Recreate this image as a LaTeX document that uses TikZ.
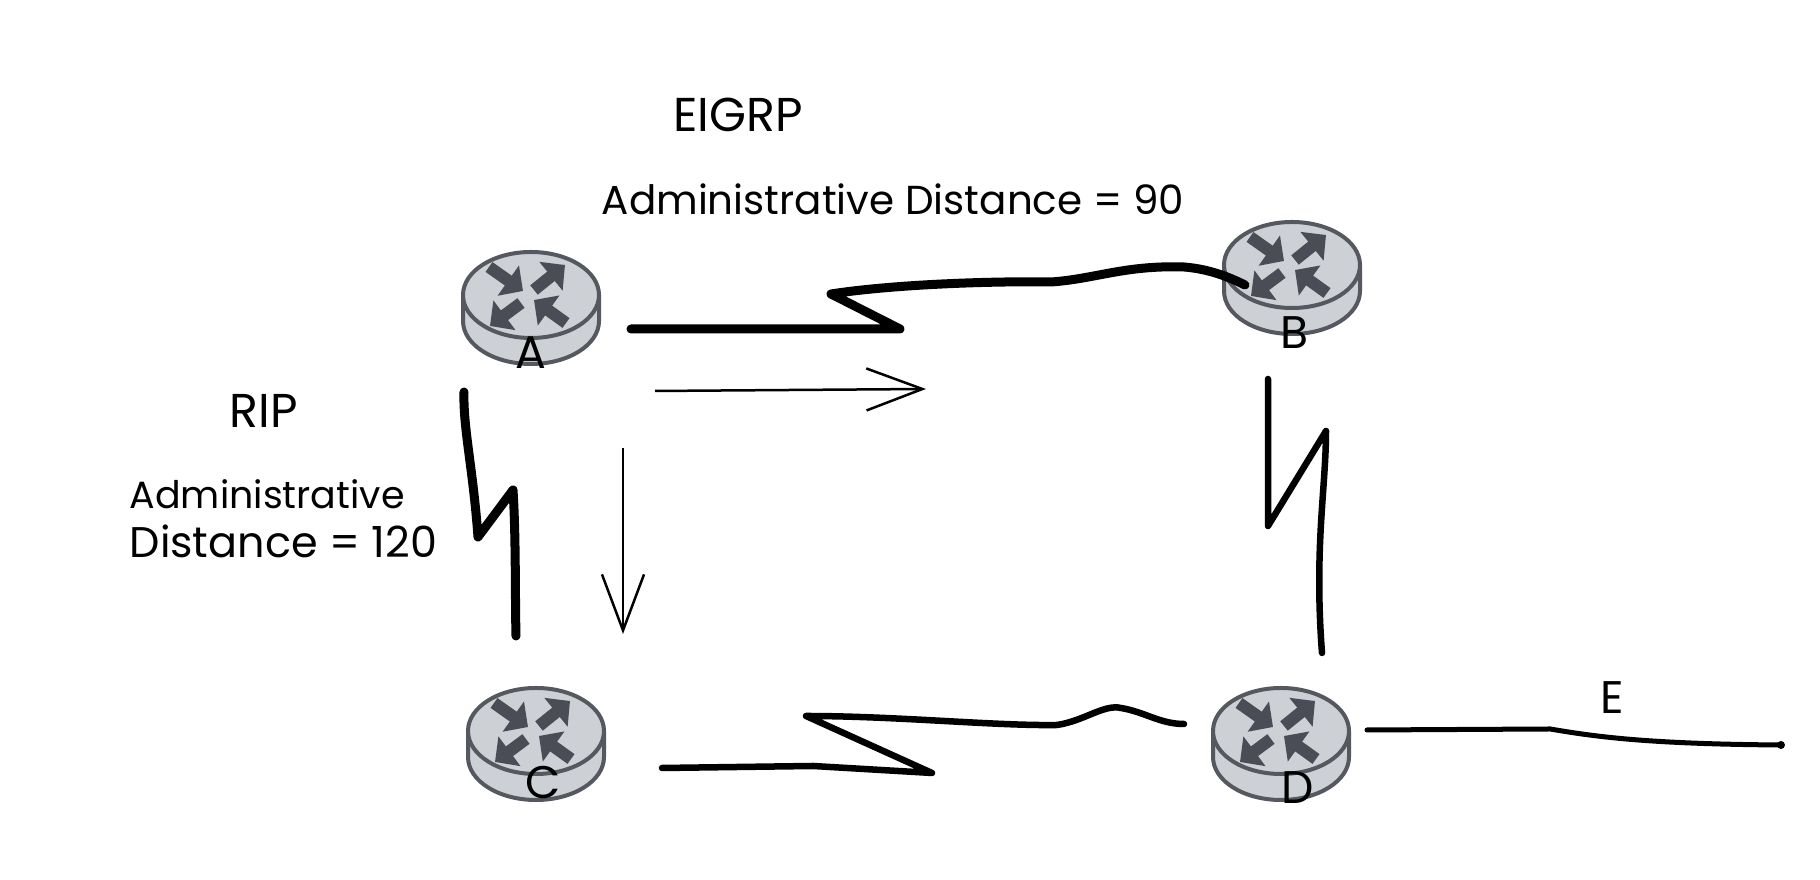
\documentclass[tikz,border=0pt]{standalone}
\usepackage{fontspec}
\setmainfont{Poppins}
\usetikzlibrary{arrows.meta,positioning,calc}

\definecolor{routerfill}{HTML}{CDD1D6}
\definecolor{routeredge}{HTML}{55585F}
\definecolor{routerarrow}{HTML}{4A4D55}

\tikzset{
  bolt/.style={line width=0.065cm, line cap=round, line join=round},
  boltthick/.style={line width=0.09cm, line cap=round, line join=round},
  flowarrow/.style={line width=0.025cm, -{Straight Barb[length=0.56cm,width=0.42cm,line width=0.025cm]}},
  routerbox/.style={minimum width=1.36cm, minimum height=1.12cm, inner sep=0pt},
  arrowmark/.style={line width=0.12cm, draw=routerarrow, -{Triangle[length=0.18cm,width=0.36cm]}},
  txt/.style={font=\fontsize{11.5}{12}\selectfont, inner sep=0pt},
  title/.style={font=\fontsize{13.5}{12}\selectfont, inner sep=0pt},
  letter/.style={font=\fontsize{13}{12}\selectfont, inner sep=0pt}
}

% one router: cylinder, four arrows, invisible node for its name
\newcommand{\router}[3]{
\begin{scope}[shift={(#2,#3)}]
\draw[routeredge, fill=routerfill, line width=0.04cm] (-68,0) -- (-68,26)
  arc[start angle=180, end angle=0, x radius=68, y radius=43] -- (68,0);
\draw[routeredge, fill=routerfill, line width=0.04cm] (0,0) ellipse (68 and 43);
\draw[arrowmark] (-42,-28) -- (-8,-4);
\draw[arrowmark] (3,-5) -- (34,-30);
\draw[arrowmark] (-10,8) -- (-41,31);
\draw[arrowmark] (35,28) -- (3,5);
\node[routerbox] (#1) at (0,13) {};
\end{scope}
}

\begin{document}
\begin{tikzpicture}[x=0.01cm, y=-0.01cm]
\useasboundingbox (0,0) rectangle (1820,880);

% Routers
\router{A}{531}{295}
\router{B}{1292}{265}
\router{C}{536}{731}
\router{D}{1281}{731}

% Free ends of the links
\coordinate (abstart) at (631,329);
\coordinate (abend) at (1245,285);
\coordinate (acstart) at (464,392);
\coordinate (acend) at (516,636);
\coordinate (bdstart) at (1268,379);
\coordinate (bdend) at (1322,653);
\coordinate (cdstart) at (662,768);
\coordinate (cdend) at (1184,724);
\coordinate (destart) at (1367,730);
\coordinate (deend) at (1781,745);
\coordinate (flowstart) at (655,391);
\coordinate (flowend) at (926,389);
\coordinate (downstart) at (623,448);
\coordinate (downend) at (623,634);

% Links
\draw[boltthick] (abstart) -- (900,329) -- (831,294)
  .. controls (896,284) and (996,281) .. (1051,282)
  .. controls (1095,279) and (1125,265) .. (1184,267)
  .. controls (1209,269) and (1229,277) .. (abend);
\draw[boltthick] (acstart) .. controls (463,428) and (473,468) .. (478,537) -- (513,490)
  .. controls (516,537) and (515,597) .. (acend);
\draw[bolt] (bdstart) -- (1268,526) -- (1326,431)
  .. controls (1326,488) and (1314,547) .. (bdend);
\draw[bolt] (cdstart) -- (813,766) -- (932,773) -- (806,716)
  .. controls (896,716) and (995,726) .. (1057,725)
  .. controls (1084,721) and (1104,704) .. (1121,708)
  .. controls (1145,712) and (1160,724) .. (cdend);
\draw[line width=0.05cm, line cap=round] (destart) -- (1550,729)
  .. controls (1592,736) and (1642,744) .. (deend);
\fill (deend) circle (4);

% Traffic direction
\draw[flowarrow] (flowstart) -- (flowend);
\draw[flowarrow] (downstart) -- (downend);

% Labels
\node[title] (eigrp) at (738,115) {EIGRP};
\node[txt] (eigrpdist) at (893,199) {Administrative Distance = 90};
\node[title] (rip) at (264,411) {RIP};
\node[txt, align=left, anchor=west] (ripdist) at (129,519) {{\fontsize{10.8}{12}\selectfont Administrative}\\[2pt]{\fontsize{12.2}{12}\selectfont Distance = 120}};
\node[letter] (nameA) at (531,353) {A};
\node[letter] (nameB) at (1295,333) {B};
\node[letter] (nameC) at (543,783) {C};
\node[letter] (nameD) at (1298,788) {D};
\node[letter] (nameE) at (1612,698) {E};

\end{tikzpicture}
\end{document}
